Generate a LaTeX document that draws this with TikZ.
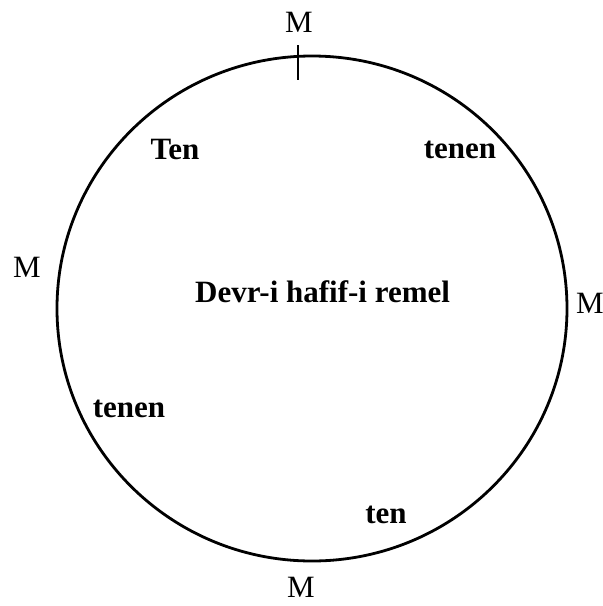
\documentclass[tikz,border=0pt]{standalone}
\usepackage{fontspec}
\setmainfont{Liberation Serif}
\usetikzlibrary{positioning}
\tikzset{
  syllable/.style={
    font=\fontsize{31}{37}\selectfont\bfseries,
    anchor=base, inner sep=0pt
  },
  beatmark/.style={
    font=\fontsize{31}{37}\selectfont,
    anchor=base, inner sep=0pt
  },
  cyclering/.style={draw=black, line width=2.8pt},
  tickline/.style={draw=black, line width=1.8pt},
}
\begin{document}
\begin{tikzpicture}[x=1pt,y=-1pt]
\useasboundingbox (0,0) rectangle (603,606);

% The cycle
\draw[cyclering] (312,308.5) ellipse [x radius=255pt, y radius=252.5pt];

% Start mark at the top
\coordinate (tick-top) at (298,45);
\coordinate (tick-bottom) at (298,80);
\draw[tickline] (tick-top) -- (tick-bottom);

% Beat marks
\node[beatmark] (m-top) at (299,32) {M};
\node[beatmark] (m-left) at (27,277) {M};
\node[beatmark] (m-right) at (590,313) {M};
\node[beatmark] (m-bottom) at (301,597) {M};

% Syllables
\node[syllable] (ten-upper) at (175,159) {Ten};
\node[syllable] (tenen-upper) at (460,158) {tenen};
\node[syllable] (tenen-lower) at (129,417) {tenen};
\node[syllable] (ten-lower) at (386,523) {ten};

% Name of the cycle
\node[syllable, anchor=base west] (cycle-name) at (195,302) {Devr-i hafif-i remel};

\end{tikzpicture}
\end{document}
